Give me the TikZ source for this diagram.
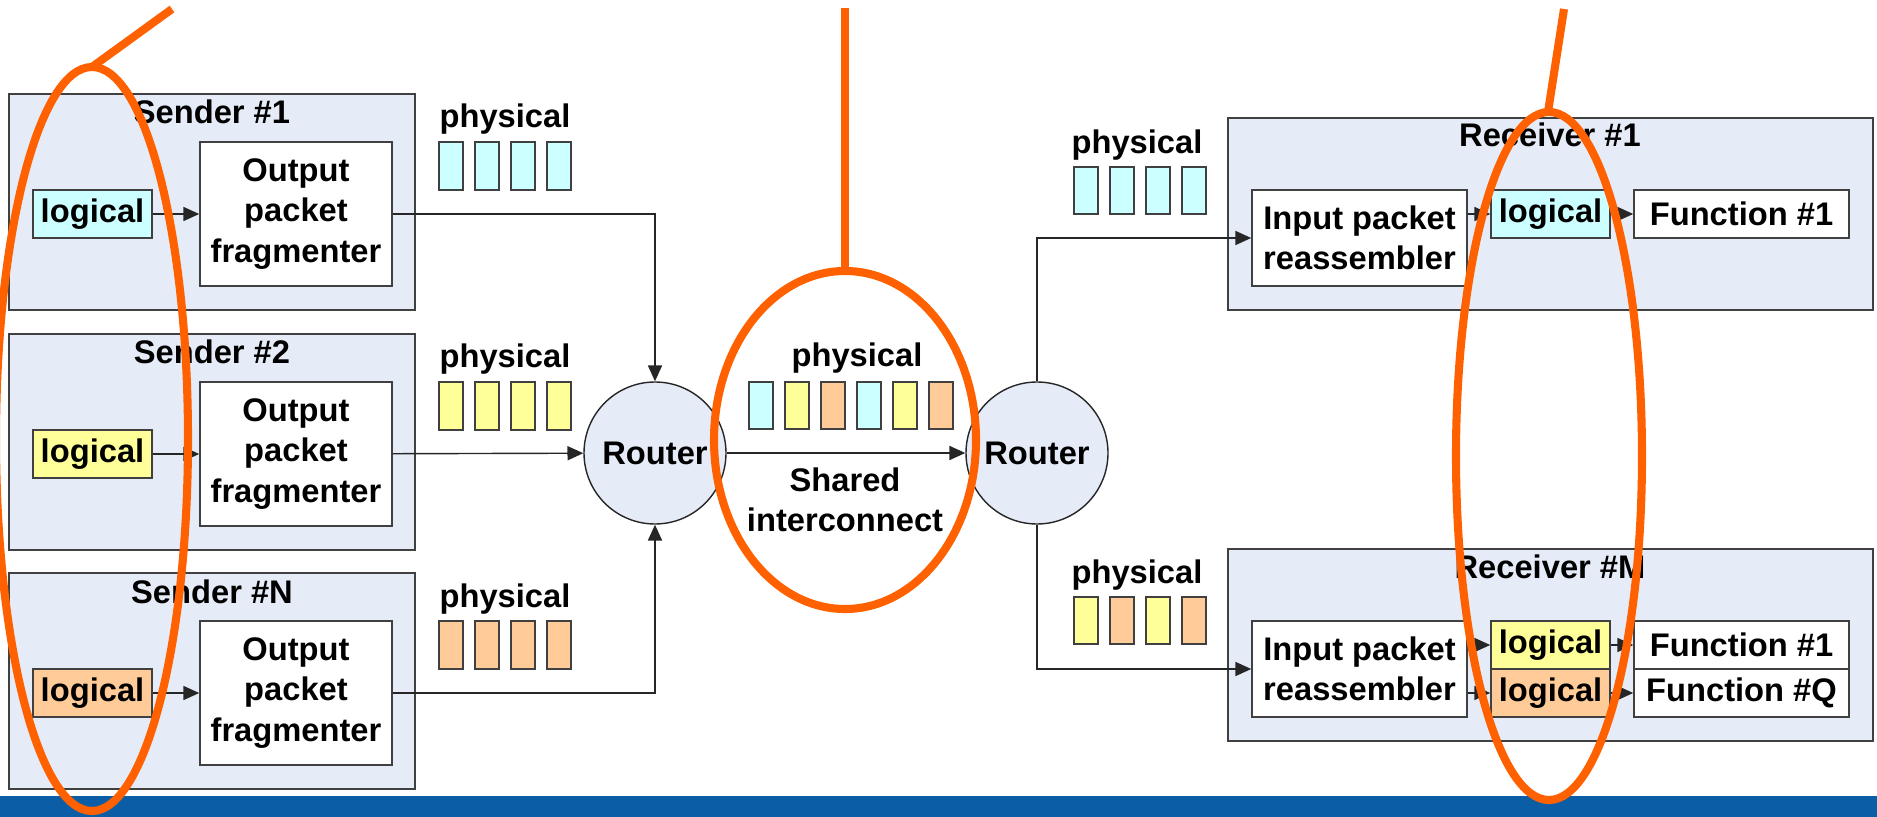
\documentclass[tikz,border=0pt]{standalone}
\usepackage{fontspec}
\setmainfont{Liberation Sans}
\usetikzlibrary{arrows.meta}

\definecolor{panel}{RGB}{230,236,247}
\definecolor{pcyan}{RGB}{204,255,255}
\definecolor{pyellow}{RGB}{255,255,153}
\definecolor{porange}{RGB}{255,204,153}
\definecolor{hiorange}{RGB}{255,96,0}
\definecolor{barblue}{RGB}{11,94,166}
\definecolor{edge}{RGB}{64,64,64}

% rectangle node given by its corners: name, x1, y1, x2, y2, style, text
\newcommand\placebox[7]{%
  \node[#6, minimum width={((#4)-(#2))*0.02cm}, minimum height={((#5)-(#3))*0.02cm}]
    (#1) at ({((#2)+(#4))/2},{((#3)+(#5))/2}) {#7};}

\begin{document}
\begin{tikzpicture}[x=0.02cm, y=-0.02cm,
  font=\fontsize{18.6}{22.8}\selectfont\bfseries,
  panelbox/.style={draw=edge, line width=1.1pt, fill=panel, inner sep=0pt},
  whitebox/.style={draw=edge, line width=0.9pt, fill=white, align=center, inner sep=0pt},
  tagbox/.style={whitebox, fill=#1},
  pkt/.style={draw=edge, line width=0.8pt},
  link/.style={draw=black!85, line width=0.8pt, -{Triangle[length=9pt,width=8pt]}},
  router/.style={circle, draw=black!85, line width=0.8pt, fill=panel,
    minimum size={142*0.02cm}, inner sep=0pt},
  hilite/.style={draw=hiorange, line width=4.6pt},
  caption/.style={anchor=base, inner sep=0pt}]

\useasboundingbox (0,0) rectangle (1877,817);

% senders
\foreach \k/\dy/\c in {1/0/pcyan, 2/240/pyellow, N/479/porange} {
  \placebox{S\k}{9}{94+\dy}{415}{310+\dy}{panelbox}{}
  \node[caption] (S\k-title) at (212,124+\dy) {Sender \#\k};
  \placebox{L\k}{33}{190+\dy}{152}{238+\dy}{tagbox=\c}{logical}
  \placebox{F\k}{200}{142+\dy}{392}{286+\dy}{whitebox}{Output\\packet\\fragmenter}
  \draw[link] (L\k) -- (F\k);
  \node[caption] (P\k) at (505,128+\dy) {physical};
  \foreach \i in {0,...,3}
    \draw[pkt, fill=\c] ({439+36*\i},142+\dy) rectangle ++(24,48);
}

% routers and the shared link
\node[router] (R1) at (655,453) {Router};
\node[router] (R2) at (1037,453) {Router};

\draw[link] (F1.east) -| (R1.north);
\draw[link] (F2) -- (R1);
\draw[link] (FN.east) -| (R1.south);
\draw[link] (R1) -- (R2);

\node[caption] (Pmid) at (857,367) {physical};
\foreach \c [count=\i from 0] in {pcyan,pyellow,porange,pcyan,pyellow,porange}
  \draw[pkt, fill=\c] ({749+36*\i},382) rectangle ++(24,47);
\node[align=center, inner sep=0pt] (shared) at (845,500) {Shared\\interconnect};

% packets arriving at the receivers
\node[caption] (Pr1) at (1137,154) {physical};
\foreach \c [count=\i from 0] in {pcyan,pcyan,pcyan,pcyan}
  \draw[pkt, fill=\c] ({1074+36*\i},167) rectangle ++(24,47);
\node[caption] (PrM) at (1137,583) {physical};
\foreach \c [count=\i from 0] in {pyellow,porange,pyellow,porange}
  \draw[pkt, fill=\c] ({1074+36*\i},597) rectangle ++(24,47);

% receiver #1
\placebox{Rx1}{1228}{118}{1873}{310}{panelbox}{}
\node[caption] (Rx1-title) at (1550,147) {Receiver \#1};
\placebox{In1}{1252}{190}{1467}{286}{whitebox}{Input packet\\reassembler}
\placebox{Lg1}{1491}{190}{1610}{238}{tagbox=pcyan}{logical}
\placebox{Fn1}{1634}{190}{1849}{238}{whitebox}{Function \#1}

% receiver #M
\placebox{RxM}{1228}{549}{1873}{741}{panelbox}{}
\node[caption] (RxM-title) at (1550,578) {Receiver \#M};
\placebox{InM}{1252}{621}{1467}{717}{whitebox}{Input packet\\reassembler}
\placebox{LgA}{1491}{621}{1610}{669}{tagbox=pyellow}{logical}
\placebox{LgB}{1491}{669}{1610}{717}{tagbox=porange}{logical}
\placebox{FnA}{1634}{621}{1849}{669}{whitebox}{Function \#1}
\placebox{FnB}{1634}{669}{1849}{717}{whitebox}{Function \#Q}

\draw[link] (R2.north) |- (In1.west);
\draw[link] (R2.south) |- (InM.west);
\draw[link] (In1.east |- Lg1.west) -- (Lg1.west);
\draw[link] (Lg1) -- (Fn1);
\draw[link] (InM.east |- LgA.west) -- (LgA.west);
\draw[link] (InM.east |- LgB.west) -- (LgB.west);
\draw[link] (LgA) -- (FnA);
\draw[link] (LgB) -- (FnB);

% footer bar
\fill[barblue] (0,796) rectangle (1877,817);

% highlight rings
\draw[hilite] (92,439) ellipse [x radius=96, y radius=372];
\draw[hilite] (92,67) -- (172,9);
\draw[hilite] (845,440) ellipse [x radius=131, y radius=169];
\draw[hilite] (845,271) -- (845,8);
\draw[hilite] (1549,456) ellipse [x radius=93, y radius=344];
\draw[hilite] (1548,112) -- (1564,9);
\end{tikzpicture}
\end{document}
